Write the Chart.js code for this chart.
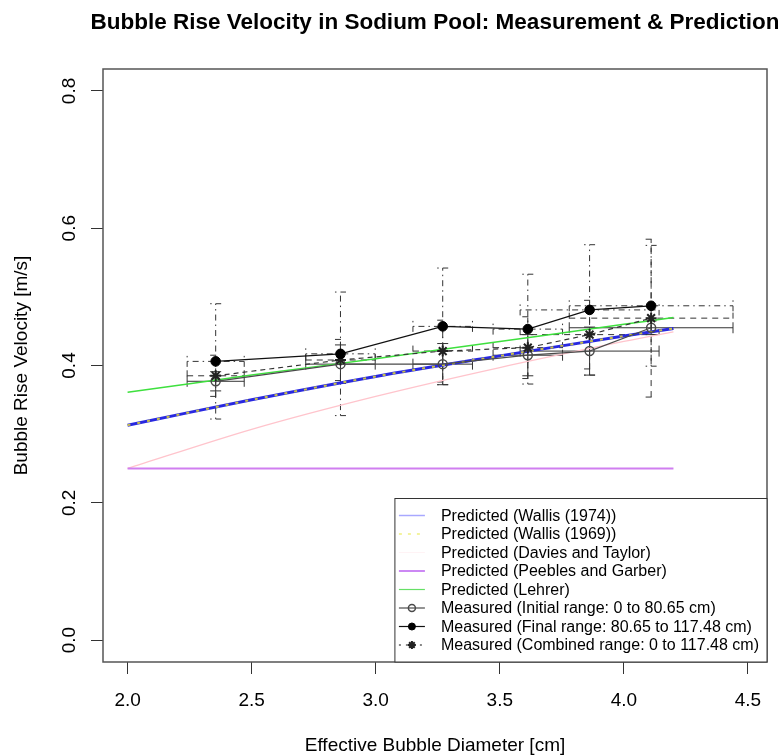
<!DOCTYPE html>
<html><head><meta charset="utf-8">
<script src="https://cdn.jsdelivr.net/npm/chart.js@4.4.1/dist/chart.umd.min.js"></script>
<style>html,body{margin:0;padding:0;background:#fff}#wrap{width:778px;height:756px}</style>
</head><body><div id="wrap"><canvas id="c" width="778" height="756"></canvas></div>
<script>
// ---------- data ----------
const chartTitle = "Bubble Rise Velocity in Sodium Pool: Measurement & Prediction";
const xAxisTitle = "Effective Bubble Diameter [cm]";
const yAxisTitle = "Bubble Rise Velocity [m/s]";
const xTickValues = [2.0, 2.5, 3.0, 3.5, 4.0, 4.5];
const xTickLabels = ["2.0", "2.5", "3.0", "3.5", "4.0", "4.5"];
const yTickValues = [0.0, 0.2, 0.4, 0.6, 0.8];
const yTickLabels = ["0.0", "0.2", "0.4", "0.6", "0.8"];

const seriesNames = [
  "Predicted (Wallis (1974))",
  "Predicted (Wallis (1969))",
  "Predicted (Davies and Taylor)",
  "Predicted (Peebles and Garber)",
  "Predicted (Lehrer)",
  "Measured (Initial range: 0 to 80.65 cm)",
  "Measured (Final range: 80.65 to 117.48 cm)",
  "Measured (Combined range: 0 to 117.48 cm)"
];

// predicted curves (diameter cm -> velocity m/s)
const predDiameter   = [2.0, 2.5, 3.0, 3.5, 4.0, 4.2];
const wallis1974     = [0.313, 0.350, 0.384, 0.414, 0.443, 0.454];
const wallis1969     = [0.313, 0.350, 0.384, 0.414, 0.443, 0.454];
const daviesTaylor   = [0.250, 0.307, 0.355, 0.397, 0.435, 0.449];
const peeblesGarber  = [0.250, 0.250, 0.250, 0.250, 0.250, 0.250];
const lehrer         = [0.361, 0.386, 0.410, 0.435, 0.460, 0.470];

// measured
const measDiameter   = [2.355, 2.858, 3.270, 3.613, 3.862, 4.110];
const initialVel     = [0.377, 0.402, 0.402, 0.415, 0.421, 0.455];
const initialVelErr  = [0.014, 0.028, 0.030, 0.030, 0.035, 0.010];
const initialDiaErr  = [0.115, 0.140, 0.120, 0.140, 0.280, 0.330];
const finalVel       = [0.406, 0.417, 0.457, 0.453, 0.481, 0.487];
const finalVelErr    = [0.084, 0.090, 0.085, 0.080, 0.095, 0.088];
const finalDiaErr    = [0.115, 0.140, 0.120, 0.140, 0.280, 0.330];
const combinedVel    = [0.385, 0.408, 0.421, 0.426, 0.445, 0.469];
const combinedVelErr = [0.030, 0.030, 0.045, 0.045, 0.050, 0.115];
const combinedDiaErr = [0.115, 0.140, 0.120, 0.140, 0.280, 0.330];

// ---------- build ----------
const pts = (xs, ys) => xs.map((x, i) => ({x: x, y: ys[i]}));
const FONT = "'Liberation Sans', Arial, Helvetica, sans-serif";

const styles = [
  {borderColor: '#2828e0', borderWidth: 3, borderDash: [], legendColor: '#a8a8ff', legendDash: [], legendWidth: 1.5},
  {borderColor: '#c8c048', borderWidth: 2, borderDash: [3, 7], legendColor: '#f0f080', legendDash: [3, 6], legendWidth: 1.5},
  {borderColor: '#ffc4cc', borderWidth: 1.3, borderDash: [], legendColor: 'rgba(255,220,225,0.35)', legendDash: [], legendWidth: 1},
  {borderColor: '#d07ef0', borderWidth: 2, borderDash: [], legendColor: '#cc88f4', legendDash: [], legendWidth: 2},
  {borderColor: '#3ee03e', borderWidth: 1.5, borderDash: [], legendColor: '#66e066', legendDash: [], legendWidth: 1.2}
];
const predSeries = [wallis1974, wallis1969, daviesTaylor, peeblesGarber, lehrer];

const datasets = [];
predSeries.forEach((ys, i) => {
  datasets.push({
    label: seriesNames[i], data: pts(predDiameter, ys), showLine: true,
    borderColor: styles[i].borderColor, borderWidth: styles[i].borderWidth,
    borderDash: styles[i].borderDash, pointRadius: 0, fill: false, tension: 0.3,
    order: 10 - i
  });
});
datasets.push({
  label: seriesNames[5], data: pts(measDiameter, initialVel), showLine: true,
  borderColor: '#4a4a4a', borderWidth: 1.2, pointStyle: 'circle', pointRadius: 4.5,
  pointBorderColor: '#4a4a4a', pointBackgroundColor: 'rgba(0,0,0,0)', pointBorderWidth: 1.5, order: 3
});
datasets.push({
  label: seriesNames[6], data: pts(measDiameter, finalVel), showLine: true,
  borderColor: '#111', borderWidth: 1.2, pointStyle: 'circle', pointRadius: 4.8,
  pointBorderColor: '#000', pointBackgroundColor: '#000', pointBorderWidth: 1, order: 1
});
datasets.push({
  label: seriesNames[7], data: pts(measDiameter, combinedVel), showLine: true,
  borderColor: '#333', borderWidth: 1.2, borderDash: [5, 4], pointStyle: 'star', pointRadius: 5.5,
  pointBorderColor: '#222', pointBackgroundColor: '#222', pointBorderWidth: 2, order: 2
});

const errSpec = [
  {x: measDiameter, y: initialVel, xe: initialDiaErr, ye: initialVelErr, dash: [], color: '#333'},
  {x: measDiameter, y: finalVel, xe: finalDiaErr, ye: finalVelErr, dash: [1.5, 4, 6, 4], color: '#333'},
  {x: measDiameter, y: combinedVel, xe: combinedDiaErr, ye: combinedVelErr, dash: [6, 5], color: '#333'}
];

const errorBars = {
  id: 'errorBars',
  beforeDatasetsDraw(chart) {
    const ctx = chart.ctx, X = chart.scales.x, Y = chart.scales.y, c = 5.5;
    ctx.save();
    errSpec.forEach(s => {
      ctx.strokeStyle = s.color; ctx.lineWidth = 1; ctx.setLineDash(s.dash);
      s.x.forEach((xv, i) => {
        const px = X.getPixelForValue(xv), py = Y.getPixelForValue(s.y[i]);
        const y1 = Y.getPixelForValue(s.y[i] - s.ye[i]), y2 = Y.getPixelForValue(s.y[i] + s.ye[i]);
        const x1 = X.getPixelForValue(xv - s.xe[i]), x2 = X.getPixelForValue(xv + s.xe[i]);
        ctx.beginPath();
        ctx.moveTo(px, y1); ctx.lineTo(px, y2);
        ctx.moveTo(px - c, y1); ctx.lineTo(px + c, y1);
        ctx.moveTo(px - c, y2); ctx.lineTo(px + c, y2);
        ctx.moveTo(x1, py); ctx.lineTo(x2, py);
        ctx.moveTo(x1, py - c); ctx.lineTo(x1, py + c);
        ctx.moveTo(x2, py - c); ctx.lineTo(x2, py + c);
        ctx.stroke();
      });
    });
    ctx.restore();
  }
};

const decorations = {
  id: 'decorations',
  afterDraw(chart) {
    const ctx = chart.ctx, a = chart.chartArea, X = chart.scales.x, Y = chart.scales.y;
    ctx.save();
    // box
    ctx.strokeStyle = '#555'; ctx.lineWidth = 1.5; ctx.setLineDash([]);
    ctx.strokeRect(a.left, a.top, a.right - a.left, a.bottom - a.top);
    // title
    const cx = (a.left + a.right) / 2;
    ctx.fillStyle = '#000'; ctx.textAlign = 'center'; ctx.textBaseline = 'middle';
    ctx.font = "bold 22.5px " + FONT;
    ctx.fillText(chartTitle, cx, 23);
    // axis titles
    ctx.font = "19px " + FONT;
    ctx.fillText(xAxisTitle, cx, a.bottom + 84);
    ctx.save(); ctx.translate(22, (a.top + a.bottom) / 2); ctx.rotate(-Math.PI / 2);
    ctx.fillText(yAxisTitle, 0, 0); ctx.restore();
    // tick labels
    xTickValues.forEach((v, i) => ctx.fillText(xTickLabels[i], X.getPixelForValue(v), a.bottom + 39));
    yTickValues.forEach((v, i) => {
      ctx.save(); ctx.translate(a.left - 33, Y.getPixelForValue(v)); ctx.rotate(-Math.PI / 2);
      ctx.fillText(yTickLabels[i], 0, 0); ctx.restore();
    });
    // legend
    ctx.font = "16px " + FONT;
    let tw = 0; seriesNames.forEach(n => tw = Math.max(tw, ctx.measureText(n).width));
    const rowH = 18.5, padV = 17, lw = 46 + tw + 8, lh = 7 * rowH + 2 * padV;
    const lx = a.right - lw, ly = a.bottom - lh;
    ctx.fillStyle = '#fff'; ctx.fillRect(lx, ly, lw, lh);
    ctx.strokeStyle = '#333'; ctx.lineWidth = 1; ctx.strokeRect(lx, ly, lw, lh);
    seriesNames.forEach((n, i) => {
      const ry = ly + padV + i * rowH, s0 = lx + 4, s1 = lx + 30, sm = (s0 + s1) / 2;
      ctx.save();
      if (i < 5) {
        const st = styles[i];
        ctx.strokeStyle = st.legendColor; ctx.lineWidth = st.legendWidth; ctx.setLineDash(st.legendDash);
        ctx.beginPath(); ctx.moveTo(s0, ry); ctx.lineTo(s1, ry); ctx.stroke();
      } else {
        const ds = chart.data.datasets[i];
        ctx.strokeStyle = i === 5 ? '#4a4a4a' : '#111'; ctx.lineWidth = 1.2;
        ctx.setLineDash(i === 7 ? [2, 5] : []);
        ctx.beginPath(); ctx.moveTo(s0, ry); ctx.lineTo(s1, ry); ctx.stroke();
        ctx.setLineDash([]);
        ctx.fillStyle = ds.pointBackgroundColor; ctx.strokeStyle = ds.pointBorderColor;
        ctx.lineWidth = ds.pointBorderWidth;
        if (ds.pointStyle === 'circle') {
          ctx.beginPath(); ctx.arc(sm, ry, 3.5, 0, Math.PI * 2); ctx.fill(); ctx.stroke();
        } else {
          Chart.helpers.drawPoint(ctx, {pointStyle: ds.pointStyle, radius: 4, borderWidth: ds.pointBorderWidth, rotation: 0}, sm, ry);
        }
      }
      ctx.restore();
      ctx.fillStyle = '#000'; ctx.textAlign = 'left'; ctx.textBaseline = 'middle';
      ctx.fillText(n, lx + 46, ry + 1);
    });
    ctx.restore();
  }
};

new Chart(document.getElementById('c'), {
  type: 'scatter',
  data: {datasets: datasets},
  options: {
    responsive: false, animation: false, devicePixelRatio: 1,
    layout: {padding: {left: 0, right: 11, top: 69, bottom: 0}},
    plugins: {legend: {display: false}, tooltip: {enabled: false}, title: {display: false}},
    scales: {
      x: {
        type: 'linear', min: 1.9009, max: 4.577,
        afterBuildTicks: s => { s.ticks = xTickValues.map(v => ({value: v})); },
        afterFit: s => { s.height = 94; },
        ticks: {display: false},
        grid: {display: true, drawOnChartArea: false, drawTicks: true, tickLength: 12, color: '#333', lineWidth: 1},
        border: {display: false}
      },
      y: {
        type: 'linear', min: -0.032, max: 0.832,
        afterBuildTicks: s => { s.ticks = yTickValues.map(v => ({value: v})); },
        afterFit: s => { s.width = 103; },
        ticks: {display: false},
        grid: {display: true, drawOnChartArea: false, drawTicks: true, tickLength: 12, color: '#333', lineWidth: 1},
        border: {display: false}
      }
    }
  },
  plugins: [errorBars, decorations]
});
</script></body></html>
